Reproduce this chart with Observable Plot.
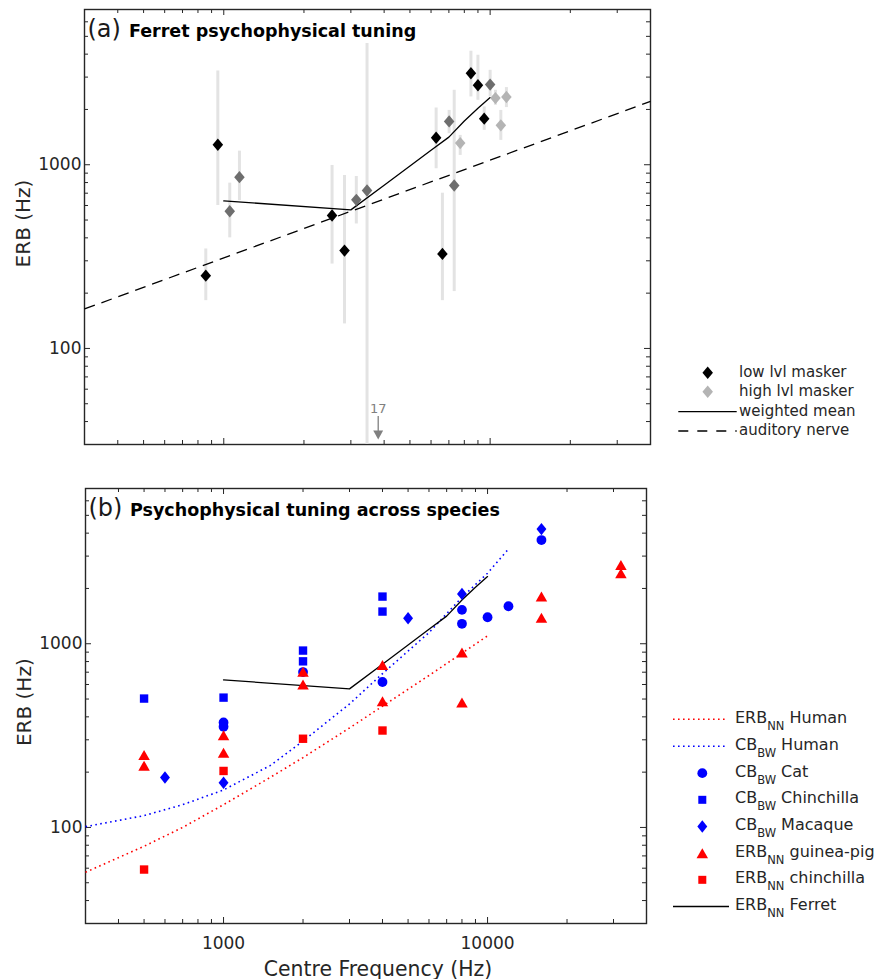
<!DOCTYPE html>
<html><head><meta charset="utf-8">
<script src="https://cdn.jsdelivr.net/npm/d3@7"></script>
<script src="https://cdn.jsdelivr.net/npm/@observablehq/plot@0.6"></script>
<style>
body{margin:0;background:#fff;}
#wrap{position:relative;width:881px;height:979px;}
#wrap svg{display:block}
</style></head><body><div id="wrap"></div>
<script>
// ---------- data ----------
const xDomain = [300, 40000];
const yDomain = [30, 7000];
const xMajor = [1000, 10000];
const xMinor = [400, 500, 600, 700, 800, 900, 2000, 3000, 4000, 5000, 6000, 7000, 8000, 9000, 20000, 30000];
const yMajor = [100, 1000];
const yMinor = [40, 50, 60, 70, 80, 90, 200, 300, 400, 500, 600, 700, 800, 900, 2000, 3000, 4000, 5000, 6000];
const xTickLabels = ["1000", "10000"];
const yTickLabels = ["100", "1000"];

// panel (a): ferret psychophysical tuning
const lowFreq = [856, 950, 2550, 2840, 6270, 6620, 8470, 9000, 9500];
const lowErb  = [249, 1285, 529, 341, 1403, 327, 3148, 2707, 1782];
const lowLo   = [182, 600, 288, 136, 951, 182, 2340, 2243, 1539];
const lowHi   = [348, 3240, 991, 874, 2037, 700, 4150, 3945, 2064];

const midFreq = [1053, 1145, 3145, 3450, 7015, 7330, 10000];
const midErb  = [558, 856, 644, 724, 1722, 771, 2731];
const midLo   = [400, 638, 476, 17, 1476, 204, 2340];
const midHi   = [794, 1186, 863, 4571, 1976, 2543, 3266];

const highFreq = [7720, 10470, 10970, 11510];
const highErb  = [1312, 2306, 1639, 2338];
const highLo   = [1124, 2106, 1357, 2047];
const highHi   = [1445, 2543, 1976, 2631];

const ferretFreq = [1000, 3000, 4000, 5000, 6000, 7000, 8000, 9000, 10000];
const ferretErb  = [636, 568, 774, 984, 1199, 1414, 1730, 2030, 2320];

const nerveFreq = [300, 40000];
const nerveErb  = [164, 2213];

const arrowFreq = 3800;
const arrowLabel = "17";

// panel (b): across species
const erbHumanFreq = [300, 500, 700, 1000, 1500, 2000, 3000, 4000, 6000, 8000, 10000];
const erbHumanVal  = [57, 79, 100, 133, 187, 240, 348, 457, 672, 888, 1104];
const cbHumanFreq  = [300, 500, 700, 1000, 1500, 2000, 3000, 4000, 6000, 8000, 10000, 12000];
const cbHumanVal   = [101, 116, 133, 160, 217, 295, 470, 687, 1150, 1790, 2420, 3280];

const catFreq = [1000, 1000, 2000, 4000, 8000, 8000, 10000, 12000, 16000];
const catErb  = [373, 353, 701, 619, 1529, 1284, 1394, 1600, 3667];

const chinCbFreq = [500, 1000, 2000, 2000, 4000, 4000];
const chinCbErb  = [503, 509, 918, 802, 1806, 1497];

const macaqueFreq = [600, 1000, 5000, 8000, 16000];
const macaqueErb  = [187, 175, 1377, 1868, 4209];

const guineaFreq = [500, 500, 1000, 1000, 2000, 2000, 4000, 4000, 8000, 8000, 16000, 16000, 32000, 32000];
const guineaErb  = [248, 217, 318, 255, 705, 600, 765, 487, 897, 479, 1806, 1384, 2684, 2416];

const chinErbFreq = [500, 1000, 2000, 4000];
const chinErbErb  = [59, 203, 304, 337];

const titleA = ["(a)", "Ferret psychophysical tuning"];
const titleB = ["(b)", "Psychophysical tuning across species"];
const yLabel = "ERB (Hz)";
const xLabel = "Centre Frequency (Hz)";
const legendA = ["low lvl masker", "high lvl masker", "weighted mean", "auditory nerve"];
const legendB = [["ERB","NN","Human"],["CB","BW","Human"],["CB","BW","Cat"],["CB","BW","Chinchilla"],["CB","BW","Macaque"],["ERB","NN","guinea-pig"],["ERB","NN","chinchilla"],["ERB","NN","Ferret"]];

// ---------- styles ----------
const W = 881;
const FONT = "DejaVu Sans";
const AX = "#262626";
const lowColor = "#000000", midColor = "#6e6e6e", highColor = "#b4b4b4", barColor = "#e3e3e3";
const BLUE = "#0000ff", RED = "#ff0000";

const diamondSym = {draw(c, s){const r=Math.sqrt(s/Math.PI), w=r*0.85; c.moveTo(0,-r); c.lineTo(w,0); c.lineTo(0,r); c.lineTo(-w,0); c.closePath();}};
const diamondSymB = {draw(c, s){const r=Math.sqrt(s/Math.PI), w=r*0.8; c.moveTo(0,-r); c.lineTo(w,0); c.lineTo(0,r); c.lineTo(-w,0); c.closePath();}};
const squareSym = {draw(c, s){const r=Math.sqrt(s/Math.PI); c.moveTo(-r,-r); c.lineTo(r,-r); c.lineTo(r,r); c.lineTo(-r,r); c.closePath();}};
const triSym = {draw(c, s){const r=Math.sqrt(s/Math.PI), w=r*1.15; c.moveTo(0,-r); c.lineTo(w,r); c.lineTo(-w,r); c.closePath();}};
const downTriSym = {draw(c, s){const r=Math.sqrt(s/Math.PI), w=r*1.1; c.moveTo(-w,-r); c.lineTo(w,-r); c.lineTo(0,r); c.closePath();}};

const zip2 = (F, E) => F.map((f, i) => ({f, erb: E[i]}));
const zip4 = (F, E, L, H) => F.map((f, i) => ({f, erb: E[i], lo: L[i], hi: H[i]}));

const lowData = zip4(lowFreq, lowErb, lowLo, lowHi);
const midData = zip4(midFreq, midErb, midLo, midHi);
const highData = zip4(highFreq, highErb, highLo, highHi);
const ferretData = zip2(ferretFreq, ferretErb);
const nerveData = zip2(nerveFreq, nerveErb);

const PH = 435;
function boxTicks(pw) {
  const o = {stroke: AX, strokeWidth: 1};
  return [
    Plot.ruleX(xMinor, {...o, insetTop: PH - 4}),
    Plot.ruleX(xMinor, {...o, insetBottom: PH - 4}),
    Plot.ruleX(xMajor, {...o, insetTop: PH - 6}),
    Plot.ruleX(xMajor, {...o, insetBottom: PH - 6}),
    Plot.ruleY(yMinor, {...o, insetRight: pw - 4}),
    Plot.ruleY(yMinor, {...o, insetLeft: pw - 4}),
    Plot.ruleY(yMajor, {...o, insetRight: pw - 6}),
    Plot.ruleY(yMajor, {...o, insetLeft: pw - 6}),
    Plot.frame({stroke: AX, strokeWidth: 1.4})
  ];
}
const yAxis = () => Plot.axisY({ticks: yMajor, tickSize: 0, tickPadding: 3, tickFormat: d => yTickLabels[yMajor.indexOf(d)], fontSize: 17, label: null});
const yTitle = (dy) => Plot.text([yLabel], {text: d => d, frameAnchor: "left", dx: -61, dy, rotate: -90, fontSize: 20, fill: AX, lineAnchor: "middle", textAnchor: "middle"});
const titles = (t) => [
  Plot.text([t[0]], {text: d => d, frameAnchor: "top-left", dx: 3, dy: 27.5, lineAnchor: "bottom", textAnchor: "start", fontSize: 24, fill: "#1a1a1a"}),
  Plot.text([t[1]], {text: d => d, frameAnchor: "top-left", dx: 44.5, dy: 27.5, lineAnchor: "bottom", textAnchor: "start", fontSize: 17.5, fontWeight: "bold", fill: "#000"})
];
const style = {fontFamily: FONT, fontSize: "17px", color: AX, background: "white"};

const pwA = 881 - 84 - 231;
const plotA = Plot.plot({
  width: W, height: 460, marginTop: 9, marginBottom: 16, marginLeft: 84, marginRight: 231,
  x: {type: "log", domain: xDomain, axis: null},
  y: {type: "log", domain: yDomain},
  style,
  marks: [
    ...boxTicks(pwA),
    Plot.ruleX(lowData, {x: "f", y1: "lo", y2: "hi", stroke: barColor, strokeWidth: 3, clip: true}),
    Plot.ruleX(midData, {x: "f", y1: "lo", y2: "hi", stroke: barColor, strokeWidth: 3, clip: true}),
    Plot.ruleX(highData, {x: "f", y1: "lo", y2: "hi", stroke: barColor, strokeWidth: 3, clip: true}),
    Plot.line(nerveData, {x: "f", y: "erb", stroke: "#000", strokeWidth: 1.3, strokeDasharray: "11,7", strokeLinecap: "butt"}),
    Plot.line(ferretData, {x: "f", y: "erb", stroke: "#000", strokeWidth: 1.3}),
    Plot.dot(lowData, {x: "f", y: "erb", symbol: diamondSym, r: 6.2, fill: lowColor}),
    Plot.dot(midData, {x: "f", y: "erb", symbol: diamondSym, r: 6.2, fill: midColor}),
    Plot.dot(highData, {x: "f", y: "erb", symbol: diamondSym, r: 6.2, fill: highColor}),
    Plot.text([arrowFreq], {x: d => d, text: () => arrowLabel, frameAnchor: "bottom", dy: -36, fontSize: 13, fill: "#808080", lineAnchor: "middle"}),
    Plot.ruleX([arrowFreq], {x: d => d, insetTop: PH - 28, insetBottom: 13, stroke: "#808080", strokeWidth: 1.3}),
    Plot.dot([arrowFreq], {x: d => d, frameAnchor: "bottom", dy: -9.5, symbol: downTriSym, r: 4.5, fill: "#808080"}),
    yAxis(),
    yTitle(-3.5),
    ...titles(titleA)
  ]
});

const pwB = 881 - 85 - 235;
const plotB = Plot.plot({
  width: W, height: 519, marginTop: 28, marginBottom: 56, marginLeft: 85, marginRight: 235,
  x: {type: "log", domain: xDomain},
  y: {type: "log", domain: yDomain},
  style,
  marks: [
    ...boxTicks(pwB),
    Plot.line(zip2(erbHumanFreq, erbHumanVal), {x: "f", y: "erb", stroke: RED, strokeWidth: 1.6, strokeDasharray: "1.6,3.4", strokeLinecap: "butt"}),
    Plot.line(zip2(cbHumanFreq, cbHumanVal), {x: "f", y: "erb", stroke: BLUE, strokeWidth: 1.6, strokeDasharray: "1.6,3.4", strokeLinecap: "butt"}),
    Plot.line(ferretData, {x: "f", y: "erb", stroke: "#000", strokeWidth: 1.3}),
    Plot.dot(zip2(macaqueFreq, macaqueErb), {x: "f", y: "erb", symbol: diamondSymB, r: 6.2, fill: BLUE}),
    Plot.dot(zip2(catFreq, catErb), {x: "f", y: "erb", symbol: "circle", r: 4.9, fill: BLUE}),
    Plot.dot(zip2(chinCbFreq, chinCbErb), {x: "f", y: "erb", symbol: squareSym, r: 4.2, fill: BLUE}),
    Plot.dot(zip2(guineaFreq, guineaErb), {x: "f", y: "erb", symbol: triSym, r: 5, fill: RED}),
    Plot.dot(zip2(chinErbFreq, chinErbErb), {x: "f", y: "erb", symbol: squareSym, r: 4.2, fill: RED}),
    Plot.axisX({ticks: xMajor, tickSize: 0, tickPadding: 13.5, tickFormat: d => xTickLabels[xMajor.indexOf(d)], fontSize: 17, label: null}),
    yAxis(),
    yTitle(-3.8),
    Plot.text([xLabel], {text: d => d, frameAnchor: "bottom", dx: 12, dy: 52, lineAnchor: "bottom", textAnchor: "middle", fontSize: 20.4, fill: AX}),
    ...titles(titleB)
  ]
});

const wrap = document.getElementById("wrap");
wrap.appendChild(plotA);
wrap.appendChild(plotB);

// ---------- legends ----------
const L = d3.create("svg").attr("width", W).attr("height", 979)
  .style("position", "absolute").style("left", "0").style("top", "0")
  .style("font-family", FONT).style("pointer-events", "none").style("white-space", "pre");
function symPath(sym, r){ const p = d3.path(); sym.draw(p, r*r*Math.PI); return p.toString(); }
function addSym(x, y, sym, r, fill){ L.append("path").attr("transform", `translate(${x},${y})`).attr("d", symPath(sym, r)).attr("fill", fill); }
function addLine(x1, x2, y, stroke, w, dash){ const l = L.append("line").attr("x1", x1).attr("x2", x2).attr("y1", y).attr("y2", y).attr("stroke", stroke).attr("stroke-width", w); if (dash) l.attr("stroke-dasharray", dash); }

// legend (a)
const rowA = [377, 396, 415.5, 434.5];
addSym(707.7, 372.7, diamondSym, 6.2, lowColor);
addSym(707.7, 391.7, diamondSym, 6.2, highColor);
addLine(678.3, 736.7, 411.7, "#000", 1.3);
addLine(678.3, 736.7, 431, "#000", 1.3, "10,9");
legendA.forEach((t, i) => L.append("text").attr("x", 739).attr("y", rowA[i]).attr("font-size", 15).attr("fill", AX).text(t));

// legend (b)
legendB.forEach((p, i) => {
  const b = 723.3 + 26.67 * i;
  const t = L.append("text").attr("x", 735).attr("y", b).attr("font-size", 16).attr("fill", AX);
  t.append("tspan").text(p[0]);
  t.append("tspan").attr("dy", 7).attr("font-size", 11.5).text(p[1]);
  t.append("tspan").attr("dy", -7).text(" " + p[2]);
  const sy = b - 3.5;
  if (i === 0) addLine(673, 725, b - 4, RED, 1.6, "1.6,3.4");
  if (i === 1) addLine(673, 725, b - 3.7, BLUE, 1.6, "1.6,3.4");
  if (i === 2) addSym(702.3, sy, d3.symbolCircle, 4.9, BLUE);
  if (i === 3) addSym(702.3, sy, squareSym, 4.0, BLUE);
  if (i === 4) addSym(702.3, sy, diamondSymB, 6.2, BLUE);
  if (i === 5) addSym(702.3, sy, triSym, 5, RED);
  if (i === 6) addSym(702.3, sy, squareSym, 4.0, RED);
  if (i === 7) addLine(673, 729, b - 3.5, "#000", 1.3);
});
wrap.appendChild(L.node());
</script></body></html>
